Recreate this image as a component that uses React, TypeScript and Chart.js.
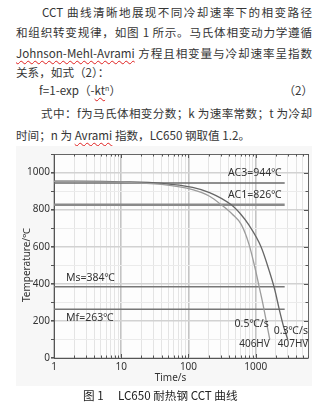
import React, { useEffect, useRef } from 'react';
import { Chart, registerables } from 'chart.js';

Chart.register(...registerables);

// ---- data ----
const rate05Time = [1, 10, 40, 115, 206, 308, 450, 612, 800, 1000, 1150, 1300, 1450, 1620];
const rate05Temp = [952, 948, 936, 908, 872, 826, 775, 719, 610, 470, 370, 280, 190, 100];
const rate03Time = [1, 10, 40, 115, 206, 434, 600, 786, 1200, 1590, 1923, 2250, 2600, 3000];
const rate03Temp = [954, 950, 942, 920, 892, 826, 775, 719, 600, 470, 368, 260, 170, 100];

const criticalNames = ['AC3', 'AC1', 'Ms', 'Mf'];
const criticalTemps = [944, 826, 384, 263];
const criticalStartTime = 1;
const criticalEndTime = 2700;

const rateLabels = ['0.5℃/s', '0.3℃/s'];
const hardnessLabels = ['406HV', '407HV'];

const xMin = 1;
const xMax = 6000;
const xLabelValues = [1, 10, 100, 1000];
const yMin = 0;
const yMax = 1100;
const yLabelValues = [0, 200, 400, 600, 800, 1000];
const yGridValues = [0, 100, 200, 300, 400, 500, 600, 700, 800, 900, 1000, 1100];
const xGridValues = [
  1, 2, 3, 4, 5, 6, 7, 8, 9,
  10, 20, 30, 40, 50, 60, 70, 80, 90,
  100, 200, 300, 400, 500, 600, 700, 800, 900,
  1000, 2000, 3000, 4000, 5000, 6000,
];

const xTitle = 'Time/s';
const yTitle = 'Temperature/℃';

// ---- styles ----
const textColor = '#333';
const chartFont = '"Noto Sans", "Noto Sans CJK SC", sans-serif';
const criticalColors = ['#6a6a6a', '#8a8a8a', '#777', '#777'];
const criticalWidths = [1.5, 2.6, 1.5, 1.5];

const framePlugin = {
  id: 'frame',
  beforeDraw(chart: any) {
    const { ctx, chartArea: a } = chart;
    ctx.save();
    ctx.fillStyle = '#fdfdfd';
    ctx.fillRect(a.left, a.top, a.right - a.left, a.bottom - a.top);
    ctx.restore();
  },
  afterDraw(chart: any) {
    const { ctx, chartArea: a, scales } = chart;
    const xs = scales.x;
    const ys = scales.y;
    ctx.save();
    // frame top & right
    ctx.strokeStyle = '#666';
    ctx.lineWidth = 1;
    ctx.beginPath();
    ctx.moveTo(a.left, a.top + 0.5);
    ctx.lineTo(a.right + 0.5, a.top + 0.5);
    ctx.lineTo(a.right + 0.5, a.bottom);
    ctx.stroke();
    // inward ticks
    ctx.strokeStyle = '#555';
    ctx.beginPath();
    xGridValues.forEach((v) => {
      const px = Math.round(xs.getPixelForValue(v)) + 0.5;
      const len = xLabelValues.includes(v) ? 4 : 2.5;
      ctx.moveTo(px, a.bottom);
      ctx.lineTo(px, a.bottom - len);
      ctx.moveTo(px, a.top);
      ctx.lineTo(px, a.top + len);
    });
    yGridValues.forEach((v) => {
      const py = Math.round(ys.getPixelForValue(v)) + 0.5;
      const len = yLabelValues.includes(v) ? 4 : 2.5;
      ctx.moveTo(a.right, py);
      ctx.lineTo(a.right - len, py);
    });
    ctx.stroke();

    ctx.fillStyle = textColor;
    ctx.textBaseline = 'middle';
    // critical temperature labels
    ctx.font = '10.5px ' + chartFont;
    criticalNames.forEach((name, i) => {
      const text = `${name}=${criticalTemps[i]}℃`;
      const py = ys.getPixelForValue(criticalTemps[i]);
      if (i < 2) {
        ctx.textAlign = 'right';
        ctx.fillText(text, xs.getPixelForValue(criticalEndTime) - 3, py - 9.5);
      } else {
        ctx.textAlign = 'left';
        ctx.fillText(text, xs.getPixelForValue(criticalStartTime) + 12, i === 2 ? py - 9 : py + 9);
      }
    });
    // curve labels
    const end05x = xs.getPixelForValue(rate05Time[rate05Time.length - 1]);
    const end05y = ys.getPixelForValue(rate05Temp[rate05Temp.length - 1]);
    const end03x = xs.getPixelForValue(rate03Time[rate03Time.length - 1]);
    const end03y = ys.getPixelForValue(rate03Temp[rate03Temp.length - 1]);
    ctx.font = '10.5px ' + chartFont;
    ctx.textAlign = 'right';
    ctx.fillText(rateLabels[0], end05x - 1, end05y - 15);
    ctx.textAlign = 'left';
    ctx.fillText(rateLabels[1], end03x - 14, end03y - 8);
    ctx.font = '10px ' + chartFont;
    ctx.textAlign = 'right';
    ctx.fillText(hardnessLabels[0], end05x, end05y + 5);
    ctx.textAlign = 'left';
    ctx.fillText(hardnessLabels[1], end03x - 10, end03y + 5);

    // axis titles
    ctx.font = '10px ' + chartFont;
    ctx.textAlign = 'center';
    ctx.fillText(xTitle, xs.getPixelForValue(54), a.bottom + 20);
    ctx.translate(27, (a.top + a.bottom) / 2 + 9);
    ctx.rotate(-Math.PI / 2);
    ctx.fillText(yTitle, 0, 0);
    ctx.restore();
  },
};

function CctChart() {
  const ref = useRef<HTMLCanvasElement | null>(null);
  useEffect(() => {
    if (!ref.current) return;
    const curve = (times: number[], temps: number[]) => times.map((t, i) => ({ x: t, y: temps[i] }));
    const datasets: any[] = [
      {
        label: rateLabels[0],
        data: curve(rate05Time, rate05Temp),
        borderColor: '#9c9c9c',
        borderWidth: 1.3,
        pointRadius: 0,
        cubicInterpolationMode: 'monotone',
        fill: false,
      },
      {
        label: rateLabels[1],
        data: curve(rate03Time, rate03Temp),
        borderColor: '#666',
        borderWidth: 1.3,
        pointRadius: 0,
        cubicInterpolationMode: 'monotone',
        fill: false,
      },
      ...criticalNames.map((name, i) => ({
        label: name,
        data: [
          { x: criticalStartTime, y: criticalTemps[i] },
          { x: criticalEndTime, y: criticalTemps[i] },
        ],
        borderColor: criticalColors[i],
        borderWidth: criticalWidths[i],
        pointRadius: 0,
        fill: false,
      })),
    ];
    const chart = new Chart(ref.current, {
      type: 'line',
      data: { datasets },
      options: {
        animation: false,
        responsive: false,
        devicePixelRatio: 1,
        layout: { padding: { top: 14, right: 16, left: 0, bottom: 0 } },
        plugins: { legend: { display: false }, tooltip: { enabled: false } },
        scales: {
          x: {
            type: 'logarithmic',
            min: xMin,
            max: xMax,
            afterBuildTicks: (s: any) => {
              s.ticks = xGridValues.map((v) => ({ value: v }));
            },
            afterFit: (s: any) => {
              s.height = 32;
            },
            ticks: {
              autoSkip: false,
              maxRotation: 0,
              padding: 3,
              color: textColor,
              font: { size: 10, family: chartFont },
              callback: (v: any) => (xLabelValues.includes(Number(v)) ? String(v) : ''),
            },
            grid: {
              drawTicks: false,
              color: (c: any) => (xLabelValues.includes(c.tick?.value) ? '#c4c4c4' : '#e4e4e4'),
              lineWidth: (c: any) => (xLabelValues.includes(c.tick?.value) ? 1.6 : 1),
            },
            border: { color: '#555', width: 1 },
          },
          y: {
            type: 'linear',
            min: yMin,
            max: yMax,
            afterBuildTicks: (s: any) => {
              s.ticks = yGridValues.map((v) => ({ value: v }));
            },
            afterFit: (s: any) => {
              s.width = 54;
            },
            ticks: {
              autoSkip: false,
              padding: 1,
              color: textColor,
              font: { size: 10, family: chartFont },
              callback: (v: any) => (yLabelValues.includes(Number(v)) ? String(v) : ''),
            },
            grid: {
              color: (c: any) => (yLabelValues.includes(c.tick?.value) ? '#d2d2d2' : '#ebebeb'),
              lineWidth: (c: any) => (yLabelValues.includes(c.tick?.value) ? 1.6 : 1),
              tickLength: 3,
              tickColor: '#555',
            },
            border: { color: '#555', width: 1 },
          },
        },
      } as any,
      plugins: [framePlugin],
    });
    return () => chart.destroy();
  }, []);
  return (
    <canvas
      ref={ref}
      width={324}
      height={250}
      style={{ position: 'absolute', left: 0, top: 140, width: 324, height: 250 }}
    />
  );
}

const para: React.CSSProperties = {
  position: 'absolute',
  fontFamily: '"Noto Sans CJK SC", "Noto Sans", sans-serif',
  fontSize: 11.6,
  lineHeight: '16px',
  color: '#353535',
  margin: 0,
};
const justified: React.CSSProperties = { textAlign: 'justify', textAlignLast: 'justify' as any };
const wavy: React.CSSProperties = {
  textDecorationLine: 'underline',
  textDecorationStyle: 'wavy',
  textDecorationColor: '#e02020',
  textDecorationThickness: '1px',
  textUnderlineOffset: '2px',
};

export default function App() {
  return (
    <div style={{ position: 'absolute', left: 0, top: 0, width: 324, height: 416, background: '#fff', overflow: 'hidden' }}>
      <div style={{ ...para, ...justified, left: 42, top: 4, width: 270 }}>CCT 曲线清晰地展现不同冷却速率下的相变路径</div>
      <div style={{ ...para, ...justified, left: 16, top: 24, width: 296 }}>和组织转变规律，如图 1 所示。马氏体相变动力学遵循</div>
      <div style={{ ...para, ...justified, left: 16, top: 45, width: 296 }}>
        <span style={wavy}>Johnson-Mehl-Avrami</span> 方程且相变量与冷却速率呈指数
      </div>
      <div style={{ ...para, left: 16, top: 64, whiteSpace: 'nowrap' }}>关系，如式（2）：</div>
      <div style={{ ...para, left: 39, top: 82, width: 274, whiteSpace: 'nowrap' }}>
        f=1-exp（-<span style={wavy}>kt</span>
        <sup style={{ fontSize: 7, verticalAlign: 'top', lineHeight: '12px' }}>n</sup>）
        <span style={{ position: 'absolute', right: 0, top: 0 }}>（2）</span>
      </div>
      <div style={{ ...para, ...justified, left: 41, top: 105, width: 271 }}>式中：f为马氏体相变分数；k 为速率常数；t 为冷却</div>
      <div style={{ ...para, left: 16, top: 127, whiteSpace: 'nowrap' }}>
        时间；n 为 <span style={wavy}>Avrami</span> 指数，LC650 钢取值 1.2。
      </div>
      <div style={{ position: 'absolute', left: 16, top: 146, width: 296, height: 240, background: '#f7f7f7' }} />
      <CctChart />
      <div style={{ ...para, left: 83, top: 387, color: '#222', whiteSpace: 'nowrap' }}>图 1</div>
      <div style={{ ...para, left: 118, top: 387, color: '#222', whiteSpace: 'nowrap' }}>LC650 耐热钢 CCT 曲线</div>
    </div>
  );
}
